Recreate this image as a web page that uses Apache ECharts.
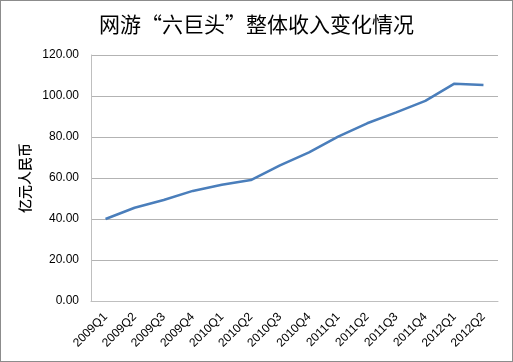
<!DOCTYPE html>
<html><head><meta charset="utf-8">
<script src="https://cdn.jsdelivr.net/npm/echarts@6/dist/echarts.min.js"></script>
<style>
html,body{margin:0;padding:0;background:#fff;}
#c{width:513px;height:362px;box-sizing:border-box;border:1px solid #8c8c8c;}
</style></head><body>
<div id="c"></div>
<script>
const categories = ['2009Q1','2009Q2','2009Q3','2009Q4','2010Q1','2010Q2','2010Q3','2010Q4','2011Q1','2011Q2','2011Q3','2011Q4','2012Q1','2012Q2'];
const revenue = [40.0, 45.5, 49.3, 53.7, 56.7, 59.0, 66.2, 72.5, 80.2, 86.7, 92.0, 97.6, 106.0, 105.4];
const yTicks = {min: 0, max: 120, interval: 20};
const titleText = '网游“六巨头”整体收入变化情况';
const yName = '亿元人民币';

const chart = echarts.init(document.getElementById('c'), null, {renderer: 'canvas'});
chart.setOption({
  animation: false,
  title: {
    text: titleText, left: 'center', top: 8,
    textStyle: {fontFamily: '"Noto Sans CJK SC"', fontSize: 21, fontWeight: 'normal', color: '#000'}
  },
  grid: {left: 90, right: 14, top: 54, bottom: 60},
  xAxis: {
    type: 'category', data: categories, boundaryGap: true,
    axisLine: {lineStyle: {color: '#bfbfbf'}},
    axisTick: {show: false},
    axisLabel: {rotate: 45, fontFamily: '"Liberation Sans"', fontSize: 12, color: '#000', margin: 14, interval: 0}
  },
  yAxis: {
    type: 'value', min: yTicks.min, max: yTicks.max, interval: yTicks.interval,
    name: yName, nameLocation: 'middle', nameGap: 42, nameRotate: 90,
    nameTextStyle: {fontFamily: '"Noto Sans CJK SC"', fontSize: 14, fontWeight: 500, color: '#000'},
    axisLine: {show: true, lineStyle: {color: '#bfbfbf'}},
    axisTick: {show: false},
    splitLine: {lineStyle: {color: '#b3b3b3'}},
    axisLabel: {formatter: v => v.toFixed(2), fontFamily: '"Liberation Sans"', fontSize: 12, color: '#000', margin: 12}
  },
  series: [{
    type: 'line', data: revenue, symbol: 'none',
    lineStyle: {color: '#4a7ebb', width: 2.5}
  }]
});
</script>
</body></html>
